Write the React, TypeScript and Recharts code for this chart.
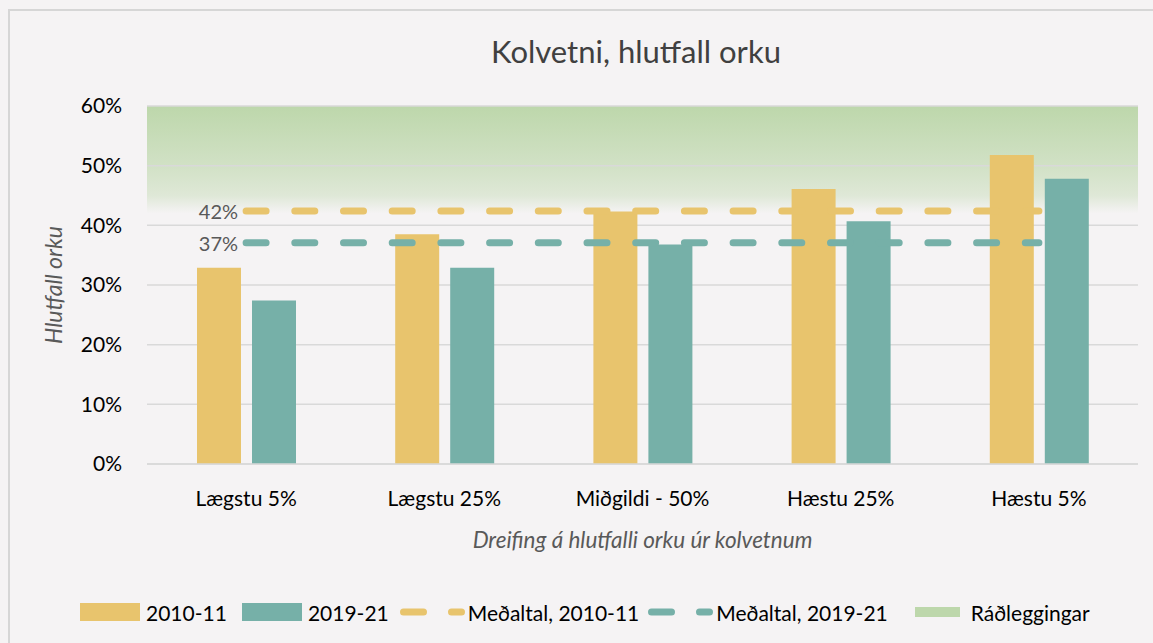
import React from 'react';
import { ComposedChart, Bar, Line, XAxis, YAxis, CartesianGrid, ReferenceArea, LabelList } from 'recharts';

const categories = ['Lægstu 5%', 'Lægstu 25%', 'Miðgildi - 50%', 'Hæstu 25%', 'Hæstu 5%'];
const values2010 = [32.9, 38.5, 42.3, 46.1, 51.8];
const values2019 = [27.4, 32.9, 36.8, 40.7, 47.8];
const mean2010 = [42.4, 42.4, 42.4, 42.4, 42.4];
const mean2019 = [37.1, 37.1, 37.1, 37.1, 37.1];
const yTicks = [0, 10, 20, 30, 40, 50, 60];
const recommended = [40, 60];
const seriesNames = ['2010-11', '2019-21', 'Meðaltal, 2010-11', 'Meðaltal, 2019-21', 'Ráðleggingar'];
const title = 'Kolvetni, hlutfall orku';
const yTitle = 'Hlutfall orku';
const xTitle = 'Dreifing á hlutfalli orku úr kolvetnum';

const YELLOW = '#E8C46D';
const TEAL = '#76B0A8';
const GREEN = '#BDD7AB';
const BG = '#F5F3F4';
const FONT = 'Lato, "Open Sans", sans-serif';

const data = categories.map((c, i) => ({
  name: c,
  v2010: values2010[i],
  v2019: values2019[i],
  m2010: mean2010[i],
  m2019: mean2019[i],
}));

const meanLabel = (props: any) => {
  const { x, y, index, value } = props;
  if (index !== 0) return null;
  return (
    <text x={x - 8} y={y} textAnchor="end" dominantBaseline="central" fill="#595959" fontSize={20} fontFamily={FONT}>
      {`${Math.round(value)}%`}
    </text>
  );
};

const LineSwatch = ({ color }: { color: string }) => (
  <svg width={66} height={10} style={{ display: 'block' }}>
    <line x1={3.5} y1={5} x2={61.5} y2={5} stroke={color} strokeWidth={7} strokeLinecap="round" strokeDasharray="20 28" />
  </svg>
);

export default function App() {
  return (
    <div style={{ position: 'absolute', left: 0, top: 0, width: 1153, height: 643, background: BG, overflow: 'hidden', fontFamily: FONT }}>
      <div style={{ position: 'absolute', left: 8, top: 9, width: 1200, height: 700, border: '2px solid #D6D6D6', boxSizing: 'border-box' }} />
      <div style={{ position: 'absolute', left: 0, top: 32, width: 1272, textAlign: 'center', fontSize: 31, color: '#404040' }}>{title}</div>
      <div style={{ position: 'absolute', left: 0, top: 0 }}>
        <ComposedChart width={1153} height={643} data={data} margin={{ top: 106, right: 15, bottom: 149, left: 47 }} barSize={44} barGap={11}>
          <defs>
            <linearGradient id="recGrad" x1="0" y1="0" x2="0" y2="1">
              <stop offset="0" stopColor={GREEN} stopOpacity={1} />
              <stop offset="0.5" stopColor={GREEN} stopOpacity={0.64} />
              <stop offset="0.75" stopColor={GREEN} stopOpacity={0.4} />
              <stop offset="0.86" stopColor={GREEN} stopOpacity={0.1} />
              <stop offset="0.9" stopColor={GREEN} stopOpacity={0} />
            </linearGradient>
          </defs>
          <ReferenceArea y1={recommended[0]} y2={recommended[1]} fill="url(#recGrad)" fillOpacity={1} stroke="none" ifOverflow="extendDomain" zIndex={-200} />
          <CartesianGrid vertical={false} stroke="#D9D9D9" strokeWidth={1.5} />
          <XAxis
            dataKey="name"
            axisLine={{ stroke: '#D9D9D9', strokeWidth: 1.5 }}
            tickLine={false}
            tickMargin={21}
            height={30}
            tick={{ fill: '#000', fontSize: 21, fontFamily: FONT }}
            label={{
              content: (p: any) => {
                const vb = p.viewBox;
                return (
                  <text x={vb.x + vb.width / 2} y={548} textAnchor="middle" fill="#595959" fontSize={22.5} fontStyle="italic" fontFamily={FONT}>
                    {xTitle}
                  </text>
                );
              },
            }}
          />
          <YAxis
            domain={[0, 60]}
            ticks={yTicks}
            width={100}
            axisLine={false}
            tickLine={false}
            tickMargin={19}
            tickFormatter={(v: number) => `${v}%`}
            tick={{ fill: '#000', fontSize: 21, fontFamily: FONT }}
            label={{
              content: (p: any) => {
                const vb = p.viewBox;
                const cx = 62;
                const cy = vb.y + vb.height / 2;
                return (
                  <text x={cx} y={cy} transform={`rotate(-90 ${cx} ${cy})`} textAnchor="middle" fill="#595959" fontSize={23} fontStyle="italic" fontFamily={FONT}>
                    {yTitle}
                  </text>
                );
              },
            }}
          />
          <Bar dataKey="v2010" name={seriesNames[0]} fill={YELLOW} isAnimationActive={false} />
          <Bar dataKey="v2019" name={seriesNames[1]} fill={TEAL} isAnimationActive={false} />
          <Line dataKey="m2010" name={seriesNames[2]} type="linear" stroke={YELLOW} strokeWidth={7} strokeLinecap="round" strokeDasharray="20 28.7" dot={false} activeDot={false} isAnimationActive={false}>
            <LabelList dataKey="m2010" content={meanLabel} />
          </Line>
          <Line dataKey="m2019" name={seriesNames[3]} type="linear" stroke={TEAL} strokeWidth={7} strokeLinecap="round" strokeDasharray="20 28.7" dot={false} activeDot={false} isAnimationActive={false}>
            <LabelList dataKey="m2019" content={meanLabel} />
          </Line>
        </ComposedChart>
      </div>
      <div style={{ position: 'absolute', left: 80, top: 602, height: 20, display: 'flex', alignItems: 'center', fontSize: 21, color: '#000', whiteSpace: 'nowrap' }}>
        <div style={{ width: 60, height: 18, background: YELLOW }} />
        <span style={{ marginLeft: 6 }}>{seriesNames[0]}</span>
        <div style={{ width: 60, height: 18, background: TEAL, marginLeft: 15 }} />
        <span style={{ marginLeft: 6 }}>{seriesNames[1]}</span>
        <div style={{ marginLeft: 11 }}><LineSwatch color={YELLOW} /></div>
        <span style={{ marginLeft: 2 }}>{seriesNames[2]}</span>
        <div style={{ marginLeft: 9 }}><LineSwatch color={TEAL} /></div>
        <span style={{ marginLeft: 2 }}>{seriesNames[3]}</span>
        <div style={{ width: 45, height: 10, background: GREEN, marginLeft: 27 }} />
        <span style={{ marginLeft: 11 }}>{seriesNames[4]}</span>
      </div>
    </div>
  );
}
